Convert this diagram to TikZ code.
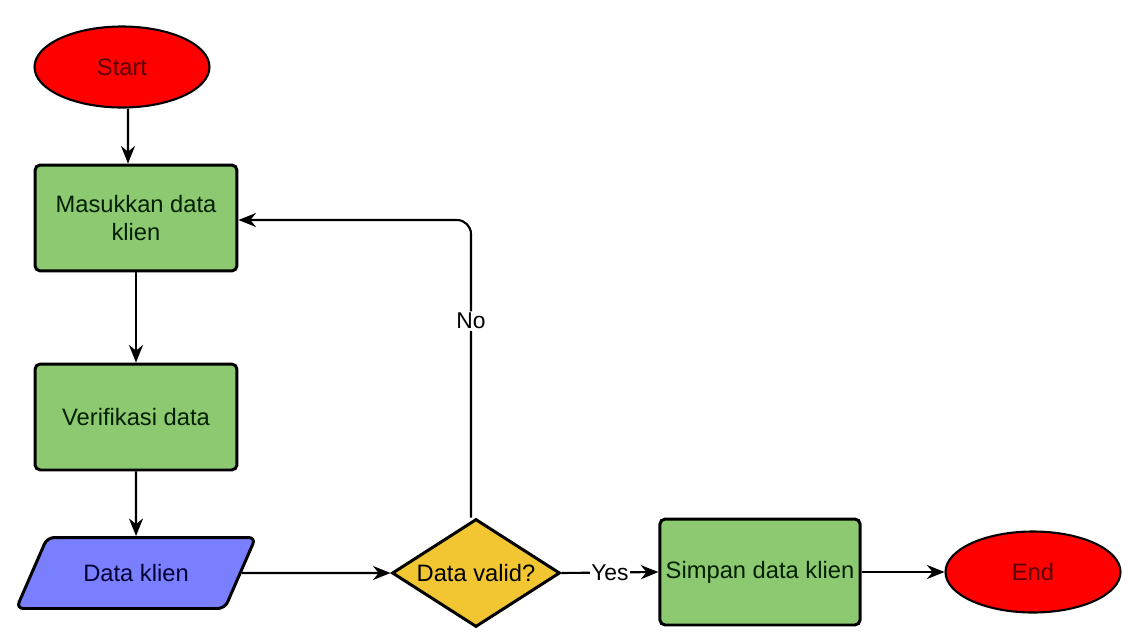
\documentclass[tikz,border=0pt]{standalone}
\usepackage{fontspec}
\setmainfont{Liberation Sans}
\usetikzlibrary{shapes.geometric,arrows.meta}

\definecolor{termred}{RGB}{255,0,0}
\definecolor{boxgreen}{RGB}{141,201,112}
\definecolor{ioblue}{RGB}{122,127,255}
\definecolor{decyellow}{RGB}{241,198,50}

\tikzset{
  txt/.style={font=\fontsize{13.5}{16}\selectfont},
  terminal/.style={txt, ellipse, draw, line width=1.2pt, fill=termred, text=red!35!black,
    minimum width=3.5cm, minimum height=1.62cm},
  process/.style={txt, rectangle, draw, line width=1.7pt, rounded corners=3pt, fill=boxgreen,
    text=green!12!black, align=center, minimum width=4.04cm, minimum height=2.12cm},
  iobox/.style={txt, trapezium, trapezium stretches=true, trapezium left angle=55,
    trapezium right angle=125, draw, line width=1.7pt, rounded corners=4pt, fill=ioblue,
    text=blue!20!black, minimum width=4.8cm, minimum height=1.42cm},
  decision/.style={txt, diamond, draw, line width=1.7pt, fill=decyellow, text=black,
    inner sep=0pt, shape aspect=1.55, minimum width=3.36cm, minimum height=2.16cm},
  arr/.style={line width=1.2pt, -{Stealth[length=10pt,width=8pt]}},
  lbl/.style={font=\fontsize{13}{15}\selectfont, fill=white, inner sep=1pt}
}

\begin{document}
\begin{tikzpicture}[x=0.02cm, y=-0.02cm]
  \useasboundingbox (0,0) rectangle (1132,639);

  % terminals
  \node[terminal] (start) at (122,67) {Start};
  \node[terminal] (end) at (1033,572) {End};

  % process steps
  \node[process] (masuk) at (136,218) {Masukkan data\\klien};
  \node[process] (verif) at (136,417) {Verifikasi data};
  \node[process, minimum width=4cm] (simpan) at (760,572) {Simpan data klien};

  % input / output
  \node[iobox] (data) at (136,573) {Data klien};

  % decision
  \node[decision] (valid) at (476,573) {Data valid?};

  % connectors
  \draw[arr] ([xshift=0.12cm]start.south) -- ([xshift=-0.16cm]masuk.north);
  \draw[arr] (masuk) -- (verif);
  \draw[arr] (verif) -- (data);
  \draw[arr] (data.east) -- (valid.west);
  \draw[arr] (valid.east) -- node[lbl] {Yes} (simpan.west);
  \draw[arr] (simpan) -- (end);
  \draw[arr, rounded corners=8pt] ([xshift=-0.1cm]valid.north) |- node[lbl, pos=0.33] {No} ([yshift=-0.04cm]masuk.east);
\end{tikzpicture}
\end{document}
